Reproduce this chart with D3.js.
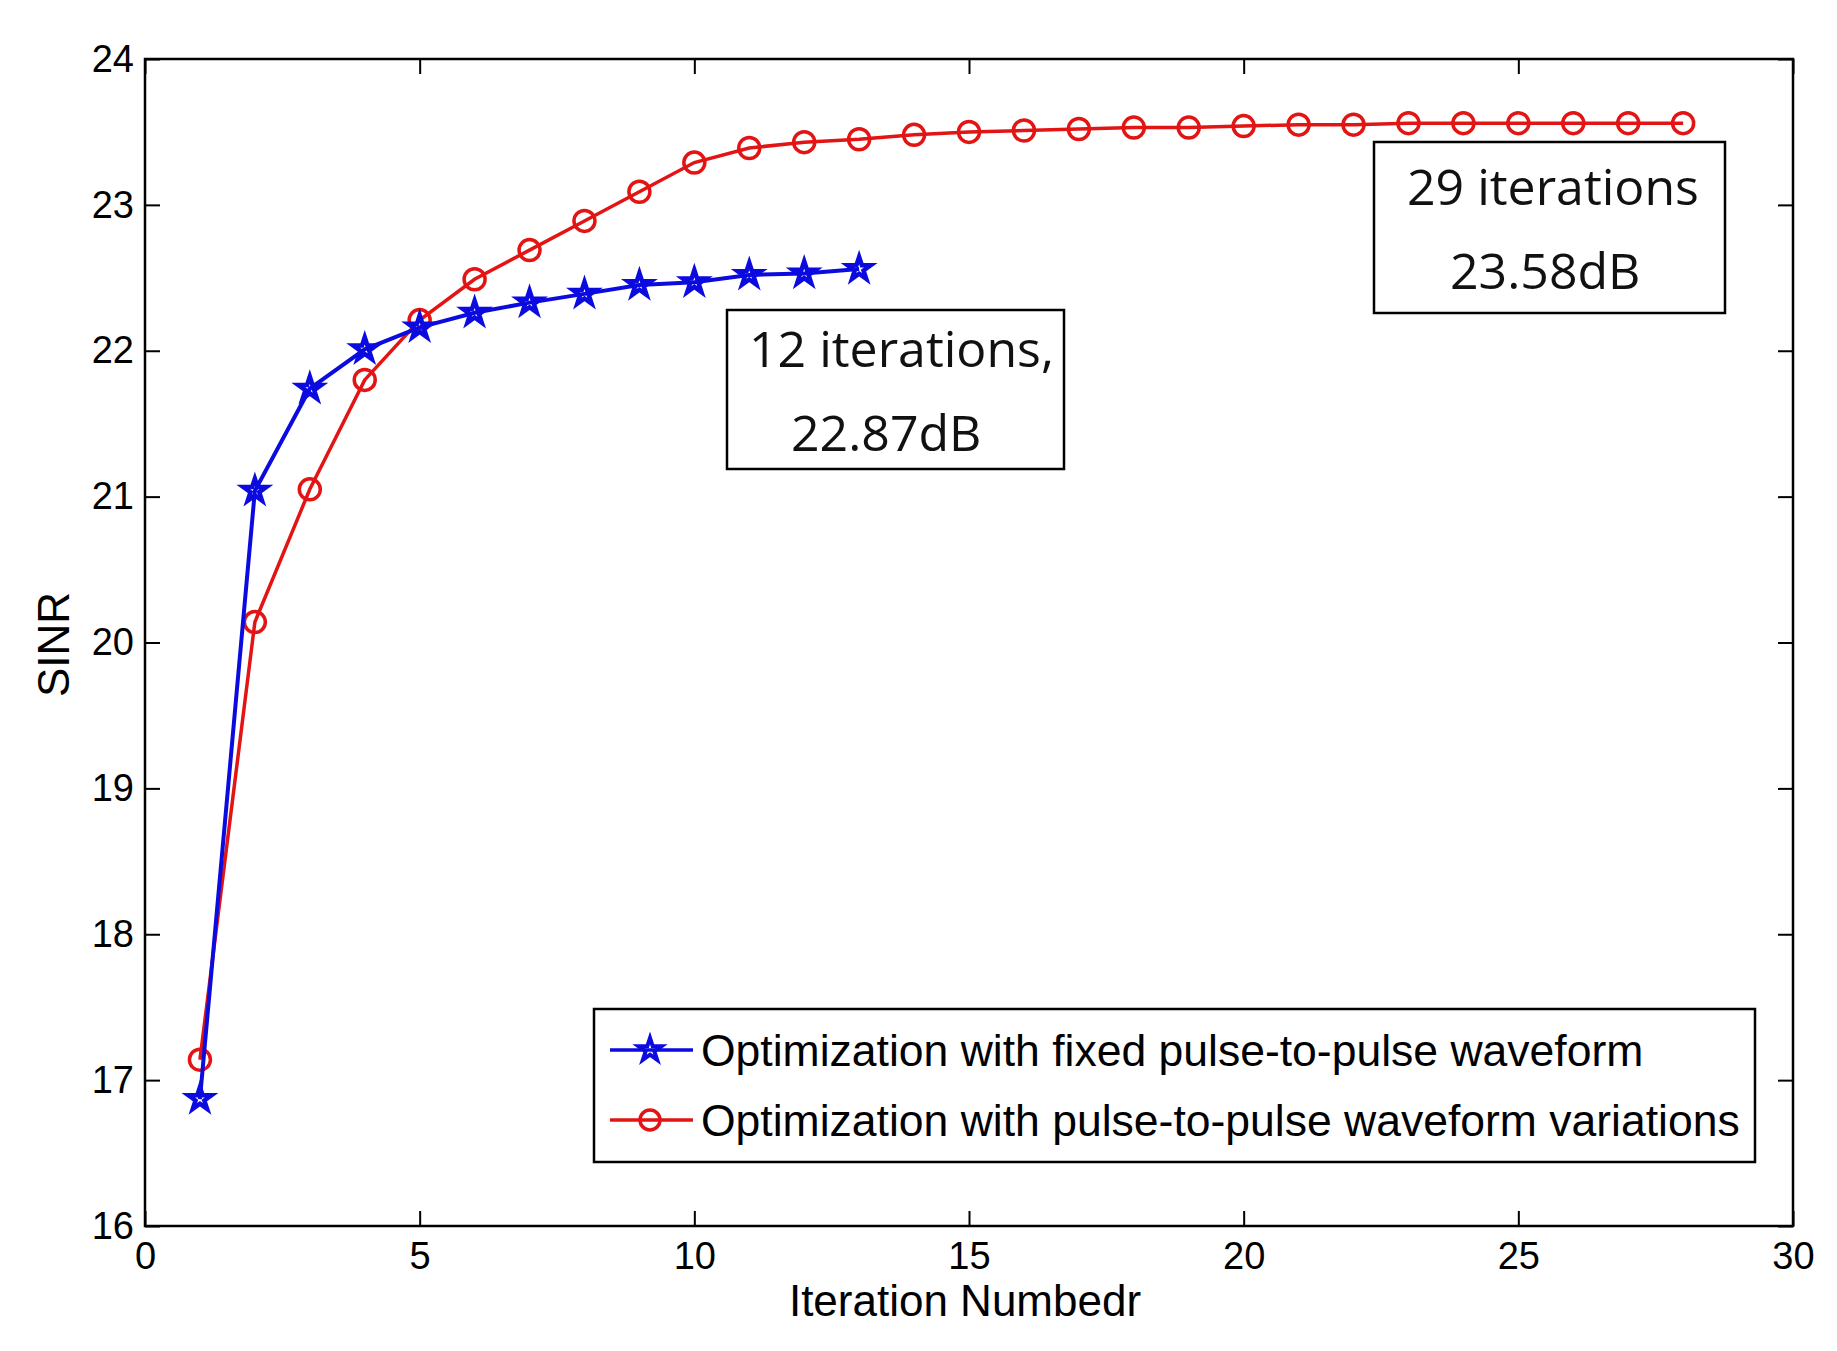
<!DOCTYPE html>
<html>
<head>
<meta charset="utf-8">
<script src="https://cdn.jsdelivr.net/npm/d3@7"></script>
<style>
  body { margin: 0; background: #fff; }
  svg { display: block; }
</style>
</head>
<body>
<svg></svg>
<script>
const width = 1837;
const height = 1351;

// fixed pulse-to-pulse waveform (stars)
const fixedIter = [1, 2, 3, 4, 5, 6, 7, 8, 9, 10, 11, 12, 13];
const fixedSinr = [16.87, 21.04, 21.74, 22.01, 22.16, 22.26, 22.33, 22.39, 22.45, 22.47, 22.52, 22.53, 22.56];

// pulse-to-pulse waveform variations (circles)
const varIter = [1, 2, 3, 4, 5, 6, 7, 8, 9, 10, 11, 12, 13, 14, 15, 16, 17, 18, 19, 20, 21, 22, 23, 24, 25, 26, 27, 28];
const varSinr = [17.14, 20.14, 21.05, 21.80, 22.21, 22.49, 22.69, 22.89, 23.09, 23.29, 23.39, 23.43, 23.45, 23.48,
                 23.50, 23.51, 23.52, 23.53, 23.53, 23.54, 23.55, 23.55, 23.56, 23.56, 23.56, 23.56, 23.56, 23.56];

const xTicks = [0, 5, 10, 15, 20, 25, 30];
const yTicks = [16, 17, 18, 19, 20, 21, 22, 23, 24];

const legendLabels = ['Optimization with fixed pulse-to-pulse waveform',
                      'Optimization with pulse-to-pulse waveform variations'];
const noteLines = [['12 iterations,', '22.87dB'], ['29 iterations', '23.58dB']];

const blue = '#0b0be0';
const red = '#e31414';

const margin = {left: 145, right: 1793, top: 59, bottom: 1226};

const svg = d3.select('svg')
  .attr('width', width)
  .attr('height', height);

svg.append('rect')
  .attr('width', width)
  .attr('height', height)
  .attr('fill', '#fff');

const x = d3.scaleLinear().domain([0, 30]).range([margin.left, margin.right]);
const y = d3.scaleLinear().domain([16, 24]).range([margin.bottom, margin.top]);

const tickFont = '"Liberation Sans", Arial, sans-serif';

/* axes: ticks pointing inward, mirrored on top and right like matlab */
svg.append('g')
  .attr('transform', `translate(0,${margin.bottom})`)
  .call(d3.axisBottom(x).tickValues(xTicks).tickSizeInner(-15).tickSizeOuter(0).tickPadding(16));

svg.append('g')
  .attr('transform', `translate(${margin.left},0)`)
  .call(d3.axisLeft(y).tickValues(yTicks).tickSizeInner(-15).tickSizeOuter(0).tickPadding(11));

svg.append('g')
  .attr('transform', `translate(0,${margin.top})`)
  .call(d3.axisTop(x).tickValues(xTicks).tickSizeInner(-15).tickSizeOuter(0).tickFormat(''));

svg.append('g')
  .attr('transform', `translate(${margin.right},0)`)
  .call(d3.axisRight(y).tickValues(yTicks).tickSizeInner(-15).tickSizeOuter(0).tickFormat(''));

svg.selectAll('.domain').remove();
svg.selectAll('.tick line').attr('stroke', '#000').attr('stroke-width', 2);
svg.selectAll('.tick text')
  .attr('fill', '#000')
  .style('font-family', tickFont)
  .style('font-size', '38px');

// box round the plot area
svg.append('rect')
  .attr('x', margin.left)
  .attr('y', margin.top)
  .attr('width', margin.right - margin.left)
  .attr('height', margin.bottom - margin.top)
  .attr('fill', 'none')
  .attr('stroke', '#000')
  .attr('stroke-width', 2.5);

// axis titles
svg.append('text')
  .attr('x', (margin.left + margin.right) / 2 - 4)
  .attr('y', 1316)
  .attr('text-anchor', 'middle')
  .style('font-family', tickFont)
  .style('font-size', '44px')
  .text('Iteration Numbedr');

svg.append('text')
  .attr('transform', `translate(69,${(margin.top + margin.bottom) / 2 + 2}) rotate(-90)`)
  .attr('text-anchor', 'middle')
  .style('font-family', tickFont)
  .style('font-size', '44px')
  .text('SINR');

/* series */
const line = d3.line().x(d => x(d[0])).y(d => y(d[1]));
const fixedData = d3.zip(fixedIter, fixedSinr);
const varData = d3.zip(varIter, varSinr);

const star = d3.symbol().type(d3.symbolStar).size(165);

svg.append('path')
  .datum(varData)
  .attr('d', line)
  .attr('fill', 'none')
  .attr('stroke', red)
  .attr('stroke-width', 3.5);

svg.append('g')
  .selectAll('circle')
  .data(varData)
  .enter()
  .append('circle')
    .attr('cx', d => x(d[0]))
    .attr('cy', d => y(d[1]))
    .attr('r', 10.5)
    .attr('fill', 'none')
    .attr('stroke', red)
    .attr('stroke-width', 3.5);

svg.append('path')
  .datum(fixedData)
  .attr('d', line)
  .attr('fill', 'none')
  .attr('stroke', blue)
  .attr('stroke-width', 4);

svg.append('g')
  .selectAll('path')
  .data(fixedData)
  .enter()
  .append('path')
    .attr('d', star)
    .attr('transform', d => `translate(${x(d[0])},${y(d[1])})`)
    .attr('fill', 'none')
    .attr('stroke', blue)
    .attr('stroke-width', 4.5);

/* annotation boxes */
const noteFont = '"Open Sans", "Noto Sans", sans-serif';
const noteBoxes = [
  {x0: 727, y0: 310, x1: 1064, y1: 469, tx: [749, 791], ty: [367, 451]},
  {x0: 1374, y0: 142, x1: 1725, y1: 313, tx: [1407, 1450], ty: [205, 289]}
];

noteLines.forEach((lines, i) => {
  const b = noteBoxes[i];
  const g = svg.append('g');
  g.append('rect')
    .attr('x', b.x0)
    .attr('y', b.y0)
    .attr('width', b.x1 - b.x0)
    .attr('height', b.y1 - b.y0)
    .attr('fill', '#fff')
    .attr('stroke', '#000')
    .attr('stroke-width', 2.5);
  lines.forEach((t, j) => {
    g.append('text')
      .attr('x', b.tx[j])
      .attr('y', b.ty[j])
      .style('font-family', noteFont)
      .style('font-size', '50px')
      .attr('fill', '#111')
      .text(t);
  });
});

/* legend */
const legend = svg.append('g');
legend.append('rect')
  .attr('x', 594)
  .attr('y', 1009)
  .attr('width', 1755 - 594)
  .attr('height', 1162 - 1009)
  .attr('fill', '#fff')
  .attr('stroke', '#000')
  .attr('stroke-width', 2.5);

const legendRows = [
  {label: legendLabels[0], color: blue, mark: 'star', cy: 1050},
  {label: legendLabels[1], color: red, mark: 'circle', cy: 1120}
];

legendRows.forEach(r => {
  legend.append('line')
    .attr('x1', 610).attr('x2', 693)
    .attr('y1', r.cy).attr('y2', r.cy)
    .attr('stroke', r.color)
    .attr('stroke-width', 3.5);
  if (r.mark === 'star') {
    legend.append('path')
      .attr('d', star)
      .attr('transform', `translate(650,${r.cy})`)
      .attr('fill', 'none')
      .attr('stroke', r.color)
      .attr('stroke-width', 4);
  } else {
    legend.append('circle')
      .attr('cx', 650).attr('cy', r.cy).attr('r', 10)
      .attr('fill', 'none')
      .attr('stroke', r.color)
      .attr('stroke-width', 3.5);
  }
  legend.append('text')
    .attr('x', 701)
    .attr('y', r.cy + 16)
    .style('font-family', tickFont)
    .style('font-size', '44.5px')
    .text(r.label);
});
</script>
</body>
</html>
